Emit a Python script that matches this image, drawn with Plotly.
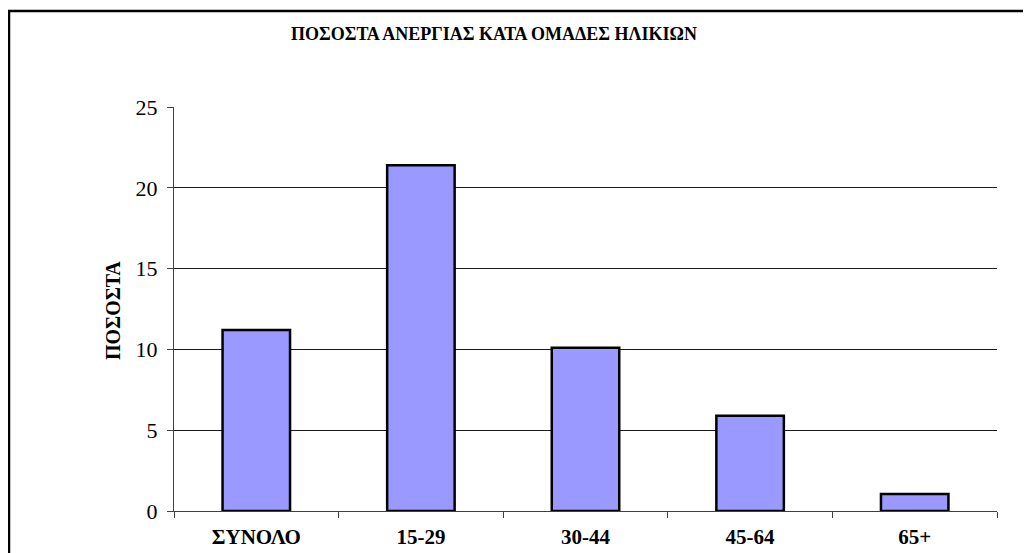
import plotly.graph_objects as go

categories = ["ΣΥΝΟΛΟ", "15-29", "30-44", "45-64", "65+"]
values = [11.2, 21.4, 10.1, 5.9, 1.05]
y_ticks = [0, 5, 10, 15, 20, 25]

title_text = "ΠΟΣΟΣΤΑ ΑΝΕΡΓΙΑΣ ΚΑΤΑ ΟΜΑΔΕΣ ΗΛΙΚΙΩΝ"
y_title = "ΠΟΣΟΣΤΑ"

OFF = 8  # page body margin
W, H = 1031 - OFF, 553 - OFF
L, R, T, B = 174 - OFF, 997 - OFF, 107 - OFF, 511 - OFF
pw, ph = R - L, B - T

def px_x(x):
    return (x - OFF - L) / pw

def px_y(y):
    return (B - (y - OFF)) / ph

font_family = "Liberation Serif"

fig = go.Figure(go.Bar(
    x=categories, y=values, width=0.41,
    marker=dict(color="#9999FF", line=dict(color="black", width=2.5)),
))

fig.update_layout(
    width=W, height=H,
    margin=dict(l=L, r=W - R, t=T, b=H - B, autoexpand=False),
    plot_bgcolor="white", paper_bgcolor="white",
    showlegend=False,
    font=dict(family=font_family, color="black", size=19),
)

fig.update_xaxes(
    type="category", range=[-0.5, 4.5],
    showline=True, linecolor="#404040", linewidth=1.3,
    ticks="outside", tickson="boundaries", ticklen=6, tickcolor="#404040", tickwidth=1.3,
    tickfont=dict(family=font_family, size=21, color="black", weight="bold"),
    ticklabelstandoff=7,
    showgrid=False, zeroline=False,
)
fig.update_yaxes(
    range=[0, 25], tickvals=y_ticks,
    showline=True, linecolor="#404040", linewidth=1.3,
    ticks="outside", ticklen=6, tickcolor="#404040", tickwidth=1.3,
    tickfont=dict(family=font_family, size=22, color="black"),
    ticklabelstandoff=5,
    showgrid=True, gridcolor="#1a1a1a", gridwidth=1,
    zeroline=False,
)

# outer chart frame (extends past the right and bottom edges)
fig.add_shape(type="rect", xref="paper", yref="paper",
              x0=px_x(9), x1=px_x(1045), y0=px_y(11), y1=px_y(570),
              line=dict(color="black", width=2.5), fillcolor="rgba(0,0,0,0)", layer="above")

fig.add_annotation(text="<b>" + title_text + "</b>", xref="paper", yref="paper",
                   x=px_x(494), y=px_y(34), xanchor="center", yanchor="middle",
                   showarrow=False, font=dict(family=font_family, size=18, color="black"))

fig.add_annotation(text="<b>" + y_title + "</b>", xref="paper", yref="paper",
                   x=px_x(113), y=px_y(311), xanchor="center", yanchor="middle",
                   textangle=-90, showarrow=False,
                   font=dict(family=font_family, size=20, color="black"))

fig.write_html("out.html")
